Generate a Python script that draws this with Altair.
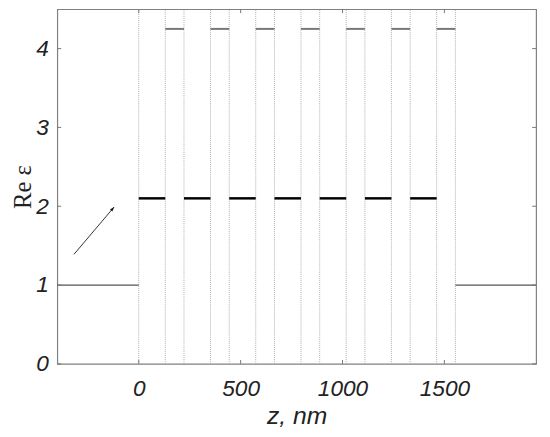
import altair as alt
import pandas as pd

# layer boundaries (nm) and permittivities
bounds = [0, 130, 222, 352, 444, 574, 666, 796, 888, 1018, 1110, 1240, 1332, 1462, 1554]
eps_low = 2.1
eps_high = 4.25
eps_ambient = 1.0
z_min, z_max = -400, 1950
x_ticks = [0, 500, 1000, 1500]
y_ticks = [0, 1, 2, 3, 4]
arrow_tail = (-318, 1.39)
arrow_head = (-121, 1.99)

seg_rows = []
for i in range(len(bounds) - 1):
    seg_rows.append({"z1": bounds[i], "z2": bounds[i + 1],
                     "eps": eps_low if i % 2 == 0 else eps_high,
                     "kind": "low" if i % 2 == 0 else "high"})
seg = pd.DataFrame(seg_rows)
amb = pd.DataFrame({"z1": [z_min, bounds[-1]], "z2": [bounds[0], z_max], "eps": [eps_ambient, eps_ambient]})
vlines = pd.DataFrame({"z": bounds})

xs = alt.Scale(domain=[z_min, z_max], nice=False, zero=False)
ys = alt.Scale(domain=[0, 4.5], nice=False)

lab = dict(labelFont="Liberation Sans", labelFontStyle="italic", labelFontSize=23,
           labelColor="#222", ticks=False, domain=False, grid=False, format="d")

vl = alt.Chart(vlines).mark_rule(color="#b0b0b0", strokeWidth=1, strokeDash=[1, 1]).encode(
    x=alt.X("z:Q", scale=xs,
            axis=alt.Axis(values=x_ticks, title="z, nm", titleFont="Liberation Sans",
                          titleFontStyle="italic", titleFontSize=25, titleFontWeight="normal",
                          titleColor="#222", labelPadding=14, titlePadding=4, **lab)),
    y=alt.datum(0, scale=ys,
                axis=alt.Axis(values=y_ticks, title="Re ε", titleFont="Liberation Serif",
                              titleFontSize=25, titleFontWeight="normal", titleColor="#222",
                              labelPadding=9, titlePadding=0, **lab)),
    y2=alt.datum(4.5),
)

low = alt.Chart(seg[seg.kind == "low"]).mark_rule(color="#000", strokeWidth=2.5).encode(
    x="z1:Q", x2="z2", y="eps:Q")
high = alt.Chart(seg[seg.kind == "high"]).mark_rule(color="#777", strokeWidth=2).encode(
    x="z1:Q", x2="z2", y="eps:Q")
ambl = alt.Chart(amb).mark_rule(color="#555", strokeWidth=1.3).encode(
    x="z1:Q", x2="z2", y="eps:Q")

arr = pd.DataFrame({"x1": [arrow_tail[0]], "y1": [arrow_tail[1]],
                    "x2": [arrow_head[0]], "y2": [arrow_head[1]]})
arrow_line = alt.Chart(arr).mark_rule(color="#333", strokeWidth=1).encode(
    x="x1:Q", y="y1:Q", x2="x2", y2="y2")
arrow_tip = alt.Chart(arr).mark_point(shape="M0,0L-0.4,1.2L0.4,1.2Z", filled=True, color="#111",
                                      size=60, opacity=1, angle=40).encode(x="x2:Q", y="y2:Q")

tk = 4 / 80.0  # tick length in data units on y
tkx = 4 / 103.6 * 500
bt = pd.DataFrame({"z": x_ticks})
ticks_b = alt.Chart(bt).mark_rule(color="#777").encode(x="z:Q", y=alt.datum(0), y2=alt.datum(tk))
ticks_t = alt.Chart(bt).mark_rule(color="#777").encode(x="z:Q", y=alt.datum(4.5), y2=alt.datum(4.5 - tk))
yt = pd.DataFrame({"e": y_ticks})
ticks_l = alt.Chart(yt).mark_rule(color="#777").encode(y="e:Q", x=alt.datum(z_min), x2=alt.datum(z_min + tkx))
ticks_r = alt.Chart(yt).mark_rule(color="#777").encode(y="e:Q", x=alt.datum(z_max), x2=alt.datum(z_max - tkx))

chart = alt.layer(vl, ambl, low, high, arrow_line, arrow_tip, ticks_b, ticks_t, ticks_l, ticks_r).properties(
    width=486, height=360,
    autosize=alt.AutoSizeParams(type="none"),
    padding={"left": 50, "top": -2, "right": 6, "bottom": 70},
).configure_view(stroke="#808080", strokeWidth=1.2)

chart.save("out.html", embed_options={"renderer": "svg", "actions": False})
